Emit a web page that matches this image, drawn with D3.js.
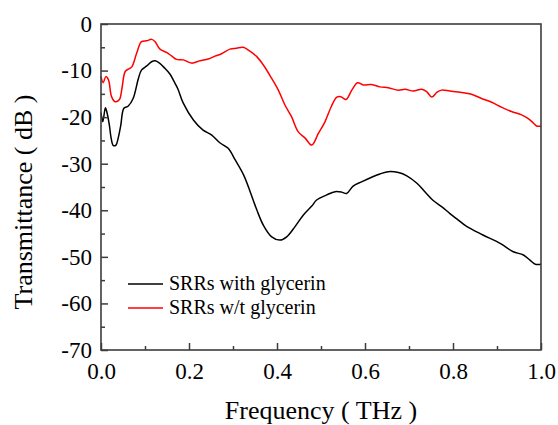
<!DOCTYPE html>
<html><head><meta charset="utf-8">
<script src="https://cdn.jsdelivr.net/npm/d3@7"></script>
<style>body{margin:0;background:#fff;} svg{display:block;}</style>
</head><body>
<svg id="c" width="558" height="425"></svg>
<script>
// Data (frequency in THz, transmittance in dB)
const withFreq = [0.000,0.004,0.010,0.013,0.019,0.023,0.028,0.034,0.039,0.045,0.052,0.062,0.073,0.085,0.092,0.104,0.115,0.123,0.133,0.145,0.157,0.168,0.175,0.187,0.210,0.232,0.251,0.270,0.289,0.305,0.324,0.339,0.354,0.369,0.388,0.407,0.422,0.441,0.460,0.479,0.490,0.513,0.532,0.547,0.558,0.573,0.592,0.615,0.634,0.653,0.676,0.695,0.718,0.736,0.755,0.774,0.793,0.808,0.830,0.868,0.907,0.937,0.960,0.975,0.987,1.000];
const withVal  = [-19.0,-21.0,-18.0,-18.8,-21.7,-24.5,-26.1,-26.0,-24.5,-21.7,-18.1,-17.6,-16.0,-11.7,-9.9,-9.0,-8.1,-7.9,-8.4,-9.5,-10.8,-12.7,-14.0,-17.0,-20.6,-22.8,-23.8,-25.5,-26.7,-29.2,-32.4,-36.0,-39.9,-43.2,-45.7,-46.4,-45.7,-43.5,-41.0,-39.1,-37.8,-36.7,-36.0,-36.1,-36.4,-34.8,-33.9,-32.9,-32.2,-31.7,-31.9,-32.6,-34.2,-36.0,-37.9,-39.2,-40.7,-41.8,-43.4,-45.3,-47.1,-48.9,-49.6,-50.7,-51.6,-51.6];
const wtFreq = [0.000,0.005,0.011,0.017,0.024,0.032,0.042,0.047,0.055,0.062,0.070,0.081,0.092,0.104,0.115,0.123,0.134,0.149,0.161,0.172,0.187,0.206,0.225,0.244,0.259,0.274,0.293,0.308,0.323,0.335,0.354,0.369,0.388,0.403,0.418,0.433,0.448,0.464,0.479,0.494,0.509,0.524,0.536,0.545,0.557,0.570,0.583,0.596,0.615,0.634,0.653,0.676,0.691,0.710,0.729,0.740,0.752,0.763,0.774,0.793,0.820,0.842,0.865,0.888,0.911,0.933,0.956,0.971,0.983,0.990,1.000];
const wtVal  = [-11.3,-12.6,-11.3,-12.0,-15.6,-16.7,-16.2,-14.2,-10.2,-9.7,-9.2,-6.3,-3.8,-3.6,-3.3,-3.8,-5.4,-6.1,-6.9,-7.6,-7.7,-8.4,-7.9,-7.5,-6.9,-6.4,-5.4,-5.2,-5.0,-5.6,-7.0,-8.8,-11.7,-14.2,-17.4,-19.9,-23.1,-24.5,-26.0,-23.5,-21.0,-17.6,-15.7,-15.6,-16.2,-14.2,-12.6,-13.1,-13.0,-13.5,-13.7,-14.2,-14.0,-14.4,-14.0,-14.5,-15.7,-14.7,-14.2,-14.4,-14.7,-15.1,-16.0,-16.8,-17.9,-18.8,-19.5,-20.3,-21.3,-21.9,-21.9];
const seriesNames = ["SRRs with glycerin","SRRs w/t glycerin"];
const seriesColors = ["#000000","#ff0000"];
const xTicks = [0,0.2,0.4,0.6,0.8,1.0];
const xMinor = [0.1,0.3,0.5,0.7,0.9];
const yTicks = [0,-10,-20,-30,-40,-50,-60,-70];
const yMinor = [-5,-15,-25,-35,-45,-55,-65];
const xTitle = "Frequency ( THz )";
const yTitle = "Transmittance ( dB )";

const L=101, R=541, T=24, B=350;
const svg = d3.select("#c");
const x = d3.scaleLinear().domain([0,1]).range([L,R]);
const y = d3.scaleLinear().domain([-70,0]).range([B,T]);
const font = "'Liberation Serif','Times New Roman',serif";
const axisColor = "#3c3c3c";

// series
const line = d3.line().x(d=>x(d[0])).y(d=>y(d[1])).curve(d3.curveCatmullRom.alpha(0.5));
const data = [d3.zip(withFreq, withVal), d3.zip(wtFreq, wtVal)];
data.forEach((pts,i)=>{
  svg.append("path").attr("d", line(pts)).attr("fill","none")
    .attr("stroke", seriesColors[i]).attr("stroke-width",1.5).attr("stroke-linejoin","round");
});

// axes
function styleAxis(g){
  g.select(".domain").remove();
  g.selectAll(".tick line").attr("stroke",axisColor).attr("stroke-width",1.5);
  g.selectAll("text").attr("font-family",font).attr("font-size",23).attr("fill","#000");
}
svg.append("g").attr("transform",`translate(0,${B})`)
  .call(d3.axisBottom(x).tickValues(xTicks).tickSize(-7).tickPadding(13).tickFormat(d3.format(".1f")))
  .call(styleAxis);
svg.append("g").attr("transform",`translate(0,${B})`)
  .call(d3.axisBottom(x).tickValues(xMinor).tickSize(-4).tickFormat(""))
  .call(styleAxis);
svg.append("g").attr("transform",`translate(${L},0)`)
  .call(d3.axisLeft(y).tickValues(yTicks).tickSize(-7).tickPadding(9).tickFormat(d=>String(d)))
  .call(styleAxis);
svg.append("g").attr("transform",`translate(${L},0)`)
  .call(d3.axisLeft(y).tickValues(yMinor).tickSize(-4).tickFormat(""))
  .call(styleAxis);

// frame
svg.append("rect").attr("x",L).attr("y",T).attr("width",R-L).attr("height",B-T)
  .attr("fill","none").attr("stroke",axisColor).attr("stroke-width",1.6);

// titles
svg.append("text").attr("x",(L+R)/2).attr("y",419).attr("text-anchor","middle")
  .attr("font-family",font).attr("font-size",26).text(xTitle);
svg.append("text").attr("transform",`translate(32,202) rotate(-90)`).attr("text-anchor","middle")
  .attr("font-family",font).attr("font-size",26).text(yTitle);

// legend
seriesNames.forEach((n,i)=>{
  const ly = 284 + i*24;
  svg.append("line").attr("x1",128).attr("x2",163).attr("y1",ly).attr("y2",ly)
    .attr("stroke",seriesColors[i]).attr("stroke-width",1.5);
  svg.append("text").attr("x",169).attr("y",ly+6).attr("font-family",font).attr("font-size",20).text(n);
});
</script>
</body></html>
